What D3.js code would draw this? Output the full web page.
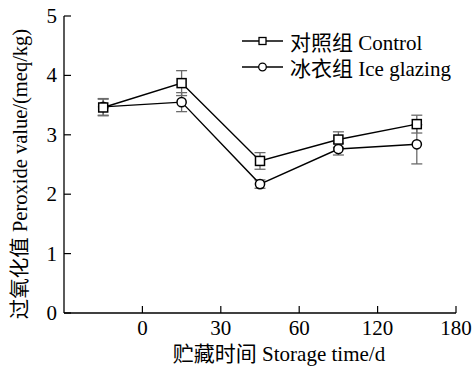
<!DOCTYPE html>
<html>
<head>
<meta charset="utf-8">
<script src="https://cdn.jsdelivr.net/npm/d3@7"></script>
<style>
  body { margin: 0; background: #fff; }
</style>
</head>
<body>
<svg id="chart" width="473" height="367"></svg>
<script>
'use strict';

// data
const tickLabels = ["0", "30", "60", "120", "180"];
const controlMean = [3.46, 3.87, 2.56, 2.92, 3.18];
const controlErr  = [0.14, 0.21, 0.14, 0.13, 0.15];
const iceMean     = [3.47, 3.55, 2.17, 2.76, 2.84];
const iceErr      = [0.14, 0.16, 0.07, 0.10, 0.33];
const seriesNames = ["对照组 Control", "冰衣组 Ice glazing"];

{ // start scope

const fontStack = "'Liberation Serif', 'Times New Roman', 'DejaVu Serif', 'Noto Sans CJK SC', serif";
const svg = d3.select("#chart").attr("font-family", fontStack);
const plotLeft = 64, plotRight = 456, plotTop = 16, plotBottom = 313;

// x is positional: ticks at slots 1..5, points at the half slots
const x = d3.scaleLinear().domain([0, 5]).range([plotLeft, plotRight]);
const y = d3.scaleLinear().domain([0, 5]).range([plotBottom, plotTop]);

const g = svg.append("g");

// axes
g.append("line").attr("x1", plotLeft).attr("x2", plotLeft).attr("y1", plotTop).attr("y2", plotBottom)
  .attr("stroke", "#000").attr("stroke-width", 1.3);
g.append("line").attr("x1", plotLeft).attr("x2", plotRight).attr("y1", plotBottom).attr("y2", plotBottom)
  .attr("stroke", "#000").attr("stroke-width", 1.3);

const yTicks = [0, 1, 2, 3, 4, 5];
g.selectAll(".yt").data(yTicks).enter().append("line")
  .attr("x1", plotLeft).attr("x2", plotLeft + 7)
  .attr("y1", d => y(d)).attr("y2", d => y(d))
  .attr("stroke", "#000").attr("stroke-width", 1.2);
g.selectAll(".yl").data(yTicks).enter().append("text")
  .attr("x", plotLeft - 7).attr("y", d => y(d) + 7)
  .attr("text-anchor", "end").attr("font-size", 21).text(d => d);

g.selectAll(".xt").data(tickLabels).enter().append("line")
  .attr("x1", (d, i) => x(i + 1)).attr("x2", (d, i) => x(i + 1))
  .attr("y1", plotBottom).attr("y2", plotBottom - 7)
  .attr("stroke", "#000").attr("stroke-width", 1.2);
g.selectAll(".xl").data(tickLabels).enter().append("text")
  .attr("x", (d, i) => x(i + 1)).attr("y", plotBottom + 22)
  .attr("text-anchor", "middle").attr("font-size", 21).text(d => d);

// axis titles
svg.append("text").attr("x", 279).attr("y", 361)
  .attr("text-anchor", "middle").attr("font-size", 21)
  .text("贮藏时间 Storage time/d");
svg.append("text").attr("transform", "translate(27,174) rotate(-90)")
  .attr("text-anchor", "middle").attr("font-size", 20.5)
  .text("过氧化值 Peroxide value/(meq/kg)");

// series
const series = [
  { mean: controlMean, err: controlErr, shape: "square" },
  { mean: iceMean, err: iceErr, shape: "circle" }
];
const px = i => x(i + 0.5);
const line = d3.line().x((d, i) => px(i)).y(d => y(d));

// error bars first (grey)
series.forEach(s => {
  const eb = g.append("g").attr("stroke", "#6b6b6b").attr("stroke-width", 1.3);
  s.mean.forEach((m, i) => {
    const cx = px(i);
    eb.append("line").attr("x1", cx).attr("x2", cx).attr("y1", y(m - s.err[i])).attr("y2", y(m + s.err[i]));
    [m - s.err[i], m + s.err[i]].forEach(v => {
      eb.append("line").attr("x1", cx - 5.5).attr("x2", cx + 5.5).attr("y1", y(v)).attr("y2", y(v));
    });
  });
});

// lines and markers; circle series drawn first so the squares sit on top
[series[1], series[0]].forEach(s => {
  g.append("path").datum(s.mean).attr("d", line)
    .attr("fill", "none").attr("stroke", "#000").attr("stroke-width", 1.4);
  s.mean.forEach((m, i) => {
    if (s.shape === "square") {
      g.append("rect").attr("x", px(i) - 4.5).attr("y", y(m) - 4.5)
        .attr("width", 9).attr("height", 9)
        .attr("fill", "#fff").attr("stroke", "#000").attr("stroke-width", 1.5);
    } else {
      g.append("circle").attr("cx", px(i)).attr("cy", y(m)).attr("r", 4.6)
        .attr("fill", "#fff").attr("stroke", "#000").attr("stroke-width", 1.5);
    }
  });
});

// legend
const legend = svg.append("g");
series.forEach((s, k) => {
  const ly = 41 + k * 26;
  legend.append("line").attr("x1", 242).attr("x2", 283).attr("y1", ly).attr("y2", ly)
    .attr("stroke", "#000").attr("stroke-width", 1.3);
  if (s.shape === "square") {
    legend.append("rect").attr("x", 259).attr("y", ly - 3.5).attr("width", 7).attr("height", 7)
      .attr("fill", "#fff").attr("stroke", "#000").attr("stroke-width", 1.3);
  } else {
    legend.append("circle").attr("cx", 262.5).attr("cy", ly).attr("r", 3.8)
      .attr("fill", "#fff").attr("stroke", "#000").attr("stroke-width", 1.3);
  }
  legend.append("text").attr("x", 290).attr("y", ly + 9).attr("font-size", 21)
    .text(seriesNames[k]);
});

} // end scope
</script>
</body>
</html>
